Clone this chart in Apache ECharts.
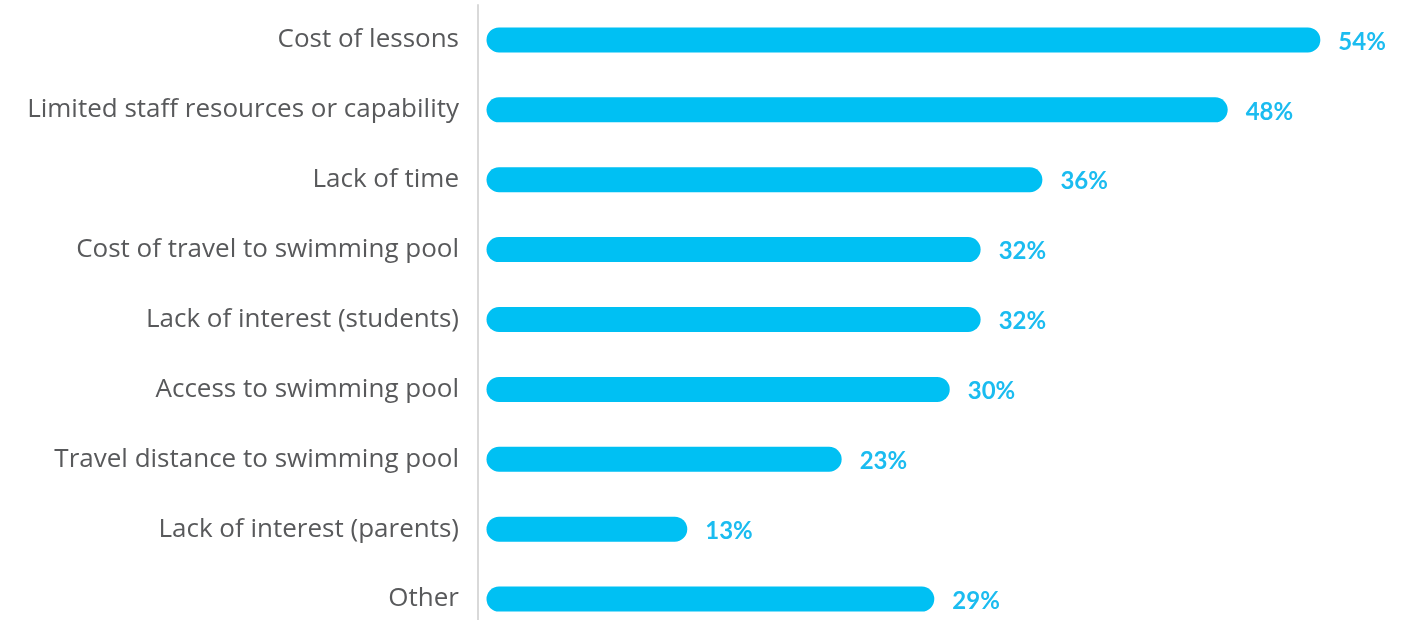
<!DOCTYPE html>
<html><head><meta charset="utf-8">
<script src="https://cdn.jsdelivr.net/npm/echarts@6/dist/echarts.min.js"></script>
<style>html,body{margin:0;padding:0;background:#fff;overflow:hidden}#c{width:1427px;height:640px}</style>
</head><body><div id="c"></div>
<script>
const categories = ["Cost of lessons","Limited staff resources or capability","Lack of time","Cost of travel to swimming pool","Lack of interest (students)","Access to swimming pool","Travel distance to swimming pool","Lack of interest (parents)","Other"];
const values = [54,48,36,32,32,30,23,13,29];

const chart = echarts.init(document.getElementById('c'));
chart.setOption({
  animation:false,
  grid:{left:478, top:5, bottom:6, right:14},
  xAxis:{type:'value', min:-0.55, max:60, show:false},
  yAxis:{type:'category', data:categories, inverse:true,
    axisLine:{onZero:false, lineStyle:{color:'#d9d9d9', width:2}},
    axisTick:{show:false},
    axisLabel:{color:'#58595b', fontSize:26, fontFamily:'Open Sans', margin:19, padding:[4,0,0,0]}
  },
  series:[{type:'bar', data:values, barWidth:25,
    itemStyle:{color:'#00c0f3', borderRadius:12.5},
    label:{show:true, position:'right', distance:18, formatter:'{c}%',
      color:'#1bbcf0', fontSize:24, fontWeight:'bold', fontFamily:'Lato', offset:[0,2]}
  }]
});
</script></body></html>
